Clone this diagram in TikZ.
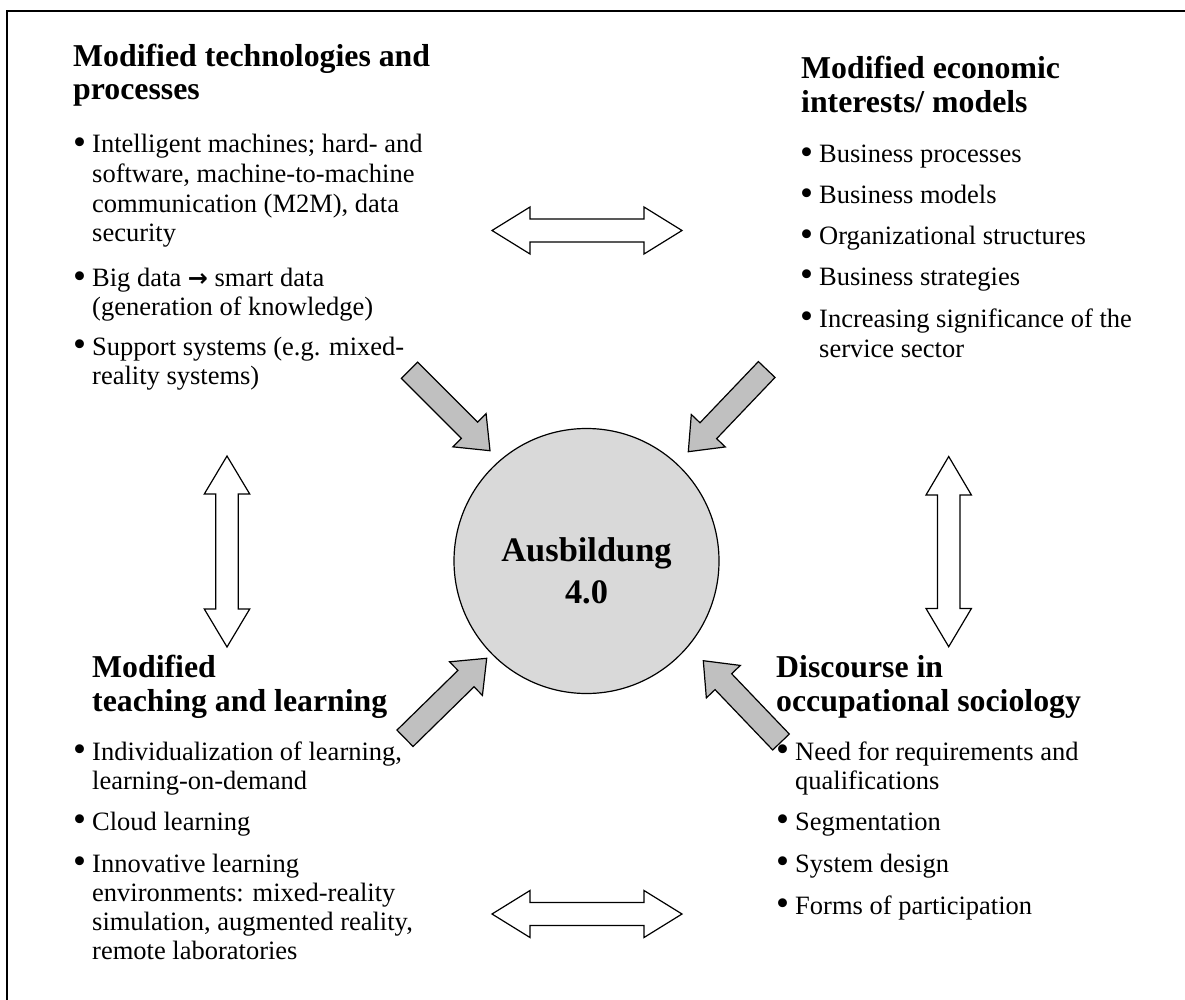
\documentclass[tikz,border=0pt]{standalone}
\usepackage{fontspec}
\setmainfont{Liberation Serif}
\newfontfamily\djv{DejaVu Sans}
\usetikzlibrary{calc}
\newcommand\bul{\llap{\raisebox{-1.2pt}{\scalebox{1.4}{\textbullet}}\hspace{6pt}}}
\begin{document}
\begin{tikzpicture}[x=1pt,y=-1pt,
  body/.style={anchor=base west,inner sep=0pt,font=\fontsize{26.5}{30}\selectfont},
  head/.style={anchor=base west,inner sep=0pt,font=\fontsize{31.8}{34}\selectfont\bfseries},
  grayarr/.style={draw=black,line width=1.2pt,fill=arrgray,line join=miter},
  whitearr/.style={draw=black,line width=1.2pt,fill=white,line join=miter},
  hub/.style={circle,draw=black,line width=1.2pt,fill=hubgray,minimum size=265pt,inner sep=0pt},
  hubtext/.style={anchor=base,inner sep=0pt,font=\fontsize{34.4}{40}\selectfont\bfseries}]
\definecolor{arrgray}{RGB}{192,192,192}
\definecolor{hubgray}{RGB}{217,217,217}
\useasboundingbox (0,0) rectangle (1185,1000);
\fill[white] (0,0) rectangle (1185,1000);
% frame (only top and left edges fall inside the picture)
\draw[line width=1.5pt] (7,11) rectangle (1200,1015);

% centre
\node[hub] (hub) at (586.5,561) {};
\node[hubtext] (hub1) at (586.5,561.7) {Ausbildung};
\node[hubtext] (hub2) at (586.5,603) {4.0};

% gray arrows towards the centre
\newcommand\grayarrow[2]{%
  \path ($(#2)!29pt!(#1)$) coordinate (hb);
  \draw[grayarr] ($(#1)!11.5pt!90:(#2)$) -- ($(hb)!11.5pt!-90:(#1)$) -- ($(hb)!23.5pt!-90:(#1)$) -- (#2)
    -- ($(hb)!23.5pt!90:(#1)$) -- ($(hb)!11.5pt!90:(#1)$) -- ($(#1)!11.5pt!-90:(#2)$) -- cycle;}
\coordinate (ulT) at (409.5,370.3); \coordinate (ulH) at (490,450.7);
\coordinate (urT) at (766.7,369.5); \coordinate (urH) at (688.3,451.7);
\coordinate (llT) at (405,738.3);   \coordinate (llH) at (486.7,658.3);
\coordinate (lrT) at (781,742);     \coordinate (lrH) at (703.3,660.7);
\grayarrow{ulT}{ulH}
\grayarrow{urT}{urH}
\grayarrow{llT}{llH}
\grayarrow{lrT}{lrH}

% white double arrows
\draw[whitearr] (492,230.5) -- (530,207) -- (530,219) -- (644,219) -- (644,207) -- (682,230.5)
  -- (644,254) -- (644,242) -- (530,242) -- (530,254) -- cycle;
\draw[whitearr] (492,914) -- (530,890.5) -- (530,902.5) -- (644,902.5) -- (644,890.5) -- (682,914)
  -- (644,937.5) -- (644,925.5) -- (530,925.5) -- (530,937.5) -- cycle;
\draw[whitearr] (227,456) -- (204.3,494) -- (215.8,494) -- (215.8,609) -- (204.3,609) -- (227,647)
  -- (249.7,609) -- (238.2,609) -- (238.2,494) -- (249.7,494) -- cycle;
\draw[whitearr] (948.7,456.5) -- (926,495) -- (937.5,495) -- (937.5,608.5) -- (926,608.5) -- (948.7,646.7)
  -- (971.4,608.5) -- (959.9,608.5) -- (959.9,495) -- (971.4,495) -- cycle;

% top-left block
\node[head] (tlh1) at (73,67) {Modified technologies and};
\node[head] (tlh2) at (73,100) {processes};
\node[body] (tl1) at (92,153) {\bul Intelligent machines; hard- and};
\node[body] (tl2) at (92,183) {software, machine-to-machine};
\node[body] (tl3) at (92,213) {communication (M2M), data};
\node[body] (tl4) at (92,242) {security};
\node[body] (tl5) at (92,287) {\bul Big data {\djv\bfseries\fontsize{24}{30}\selectfont →} smart data};
\node[body] (tl6) at (92,315) {(generation of knowledge)};
\node[body] (tl7) at (92,355) {\bul Support systems (e.g. mixed-};
\node[body] (tl8) at (92,384) {reality systems)};

% top-right block
\node[head] (trh1) at (801,79) {Modified economic};
\node[head] (trh2) at (801,113) {interests/ models};
\node[body] (tr1) at (819,163) {\bul Business processes};
\node[body] (tr2) at (819,204) {\bul Business models};
\node[body] (tr3) at (819,245) {\bul Organizational structures};
\node[body] (tr4) at (819,285) {\bul Business strategies};
\node[body] (tr5) at (819,327) {\bul Increasing significance of the};
\node[body] (tr6) at (819,357) {service sector};

% bottom-left block
\node[head] (blh1) at (92,677) {Modified};
\node[head] (blh2) at (92,711) {teaching and learning};
\node[body] (bl1) at (92,760) {\bul Individualization of learning,};
\node[body] (bl2) at (92,789) {learning-on-demand};
\node[body] (bl3) at (92,830) {\bul Cloud learning};
\node[body] (bl4) at (92,872) {\bul Innovative learning};
\node[body] (bl5) at (92,901) {environments: mixed-reality};
\node[body] (bl6) at (92,930) {simulation, augmented reality,};
\node[body] (bl7) at (92,959) {remote laboratories};

% bottom-right block
\node[head] (brh1) at (776,677) {Discourse in};
\node[head] (brh2) at (776,711) {occupational sociology};
\node[body] (br1) at (795,760) {\bul Need for requirements and};
\node[body] (br2) at (795,789) {qualifications};
\node[body] (br3) at (795,830) {\bul Segmentation};
\node[body] (br4) at (795,872) {\bul System design};
\node[body] (br5) at (795,914) {\bul Forms of participation};
\end{tikzpicture}
\end{document}
